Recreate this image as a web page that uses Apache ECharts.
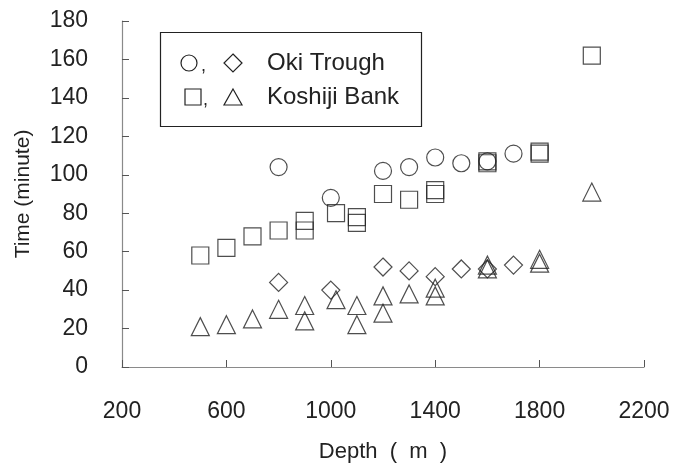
<!DOCTYPE html>
<html>
<head>
<meta charset="utf-8">
<script src="https://cdn.jsdelivr.net/npm/echarts@6/dist/echarts.min.js"></script>
<style>
	html, body { margin: 0; padding: 0; background: #fff; }
	#main { width: 673px; height: 476px; }
</style>
</head>
<body>
<div id="main"></div>
<script>
	// Oki Trough: upper (circle) and lower (diamond) times
	var okiDepthCircle = [800, 1000, 1200, 1300, 1400, 1500, 1600, 1700]
	var okiTimeCircle = [104, 88, 102, 104, 109, 106, 107, 111]
	var okiDepthDiamond = [800, 1000, 1200, 1300, 1400, 1500, 1600, 1700]
	var okiTimeDiamond = [44, 40, 52, 50, 47, 51, 51, 53]

	// Koshiji Bank: upper (square) and lower (triangle) times
	var kosDepthSquare = [500, 600, 700, 800, 900, 900, 1020, 1100, 1100, 1200, 1300, 1400, 1400, 1600, 1600, 1800, 1800, 2000]
	var kosTimeSquare = [58, 62, 68, 71, 76, 71, 80, 78, 75, 90, 87, 90, 92, 107, 106, 112, 111, 162]
	var kosDepthTriangle = [500, 600, 700, 800, 900, 900, 1020, 1100, 1100, 1200, 1200, 1300, 1400, 1400, 1600, 1600, 1800, 1800, 2000]
	var kosTimeTriangle = [21, 22, 25, 30, 32, 24, 35, 32, 22, 37, 28, 38, 41, 37, 53, 51, 56, 54, 91]

	var legendRows = ['Oki Trough', 'Koshiji Bank']

	var font = '"Liberation Sans", Arial, sans-serif'

	function pairs(xs, ys) {
		var out = []
		for (var i = 0; i < xs.length; i++) {
			out.push([xs[i], ys[i]])
		}
		return out
	}

	function scatter(name, symbol, size, xs, ys) {
		return {
			name: name,
			type: 'scatter',
			symbol: symbol,
			symbolSize: size,
			itemStyle: {
				color: 'rgba(0,0,0,0)',
				borderColor: '#222',
				borderWidth: 1.2
			},
			emphasis: { disabled: true },
			data: pairs(xs, ys)
		}
	}

	var myChart = echarts.init(document.getElementById('main'))

	var axisLine = { show: true, lineStyle: { color: '#8a8a8a', width: 1.2 } }
	var axisTick = { show: true, inside: true, length: 7, lineStyle: { color: '#555' } }
	var plain = function (v) { return String(v) }

	var option = {
		animation: false,
		backgroundColor: '#fff',
		grid: { left: 122, right: 29, top: 21, bottom: 109 },
		xAxis: {
			type: 'value',
			min: 200,
			max: 2200,
			interval: 400,
			name: 'Depth  (  m  )',
			nameLocation: 'middle',
			nameGap: 74,
			nameTextStyle: { fontFamily: font, fontSize: 22, color: '#222' },
			axisLine: axisLine,
			axisTick: axisTick,
			axisLabel: { margin: 33, fontFamily: font, fontSize: 23, color: '#222', formatter: plain },
			splitLine: { show: false }
		},
		yAxis: {
			type: 'value',
			min: 0,
			max: 180,
			interval: 20,
			name: 'Time (minute)',
			nameLocation: 'middle',
			nameGap: 88,
			nameTextStyle: { fontFamily: font, fontSize: 21, color: '#222' },
			axisLine: axisLine,
			axisTick: axisTick,
			axisLabel: { margin: 34, fontFamily: font, fontSize: 23, color: '#222', formatter: plain },
			splitLine: { show: false }
		},
		series: [
			scatter('Oki circle', 'circle', 17, okiDepthCircle, okiTimeCircle),
			scatter('Oki diamond', 'diamond', 18, okiDepthDiamond, okiTimeDiamond),
			scatter('Koshiji square', 'rect', 17, kosDepthSquare, kosTimeSquare),
			scatter('Koshiji triangle', 'triangle', 18, kosDepthTriangle, kosTimeTriangle)
		],
		// 图例 (hand drawn box, two symbols per row)
		graphic: [
			{ type: 'rect', shape: { x: 160.5, y: 32.5, width: 261, height: 94 }, style: { fill: '#fff', stroke: '#222', lineWidth: 1.2 } },
			{ type: 'circle', shape: { cx: 189, cy: 63, r: 8 }, style: { fill: 'none', stroke: '#222', lineWidth: 1.2 } },
			{ type: 'text', x: 201, y: 75, style: { text: ',', font: '18px ' + font, fill: '#222', verticalAlign: 'bottom' } },
			{ type: 'polygon', shape: { points: [[233, 54], [242, 63], [233, 72], [224, 63]] }, style: { fill: 'none', stroke: '#222', lineWidth: 1.2 } },
			{ type: 'text', x: 267, y: 63, style: { text: legendRows[0], font: '24px ' + font, fill: '#222', verticalAlign: 'middle' } },
			{ type: 'rect', shape: { x: 185, y: 89, width: 16, height: 16 }, style: { fill: 'none', stroke: '#222', lineWidth: 1.2 } },
			{ type: 'text', x: 203, y: 109, style: { text: ',', font: '18px ' + font, fill: '#222', verticalAlign: 'bottom' } },
			{ type: 'polygon', shape: { points: [[233, 89], [242, 105], [224, 105]] }, style: { fill: 'none', stroke: '#222', lineWidth: 1.2 } },
			{ type: 'text', x: 267, y: 97, style: { text: legendRows[1], font: '24px ' + font, fill: '#222', verticalAlign: 'middle' } }
		]
	}

	myChart.setOption(option, true)
</script>
</body>
</html>
